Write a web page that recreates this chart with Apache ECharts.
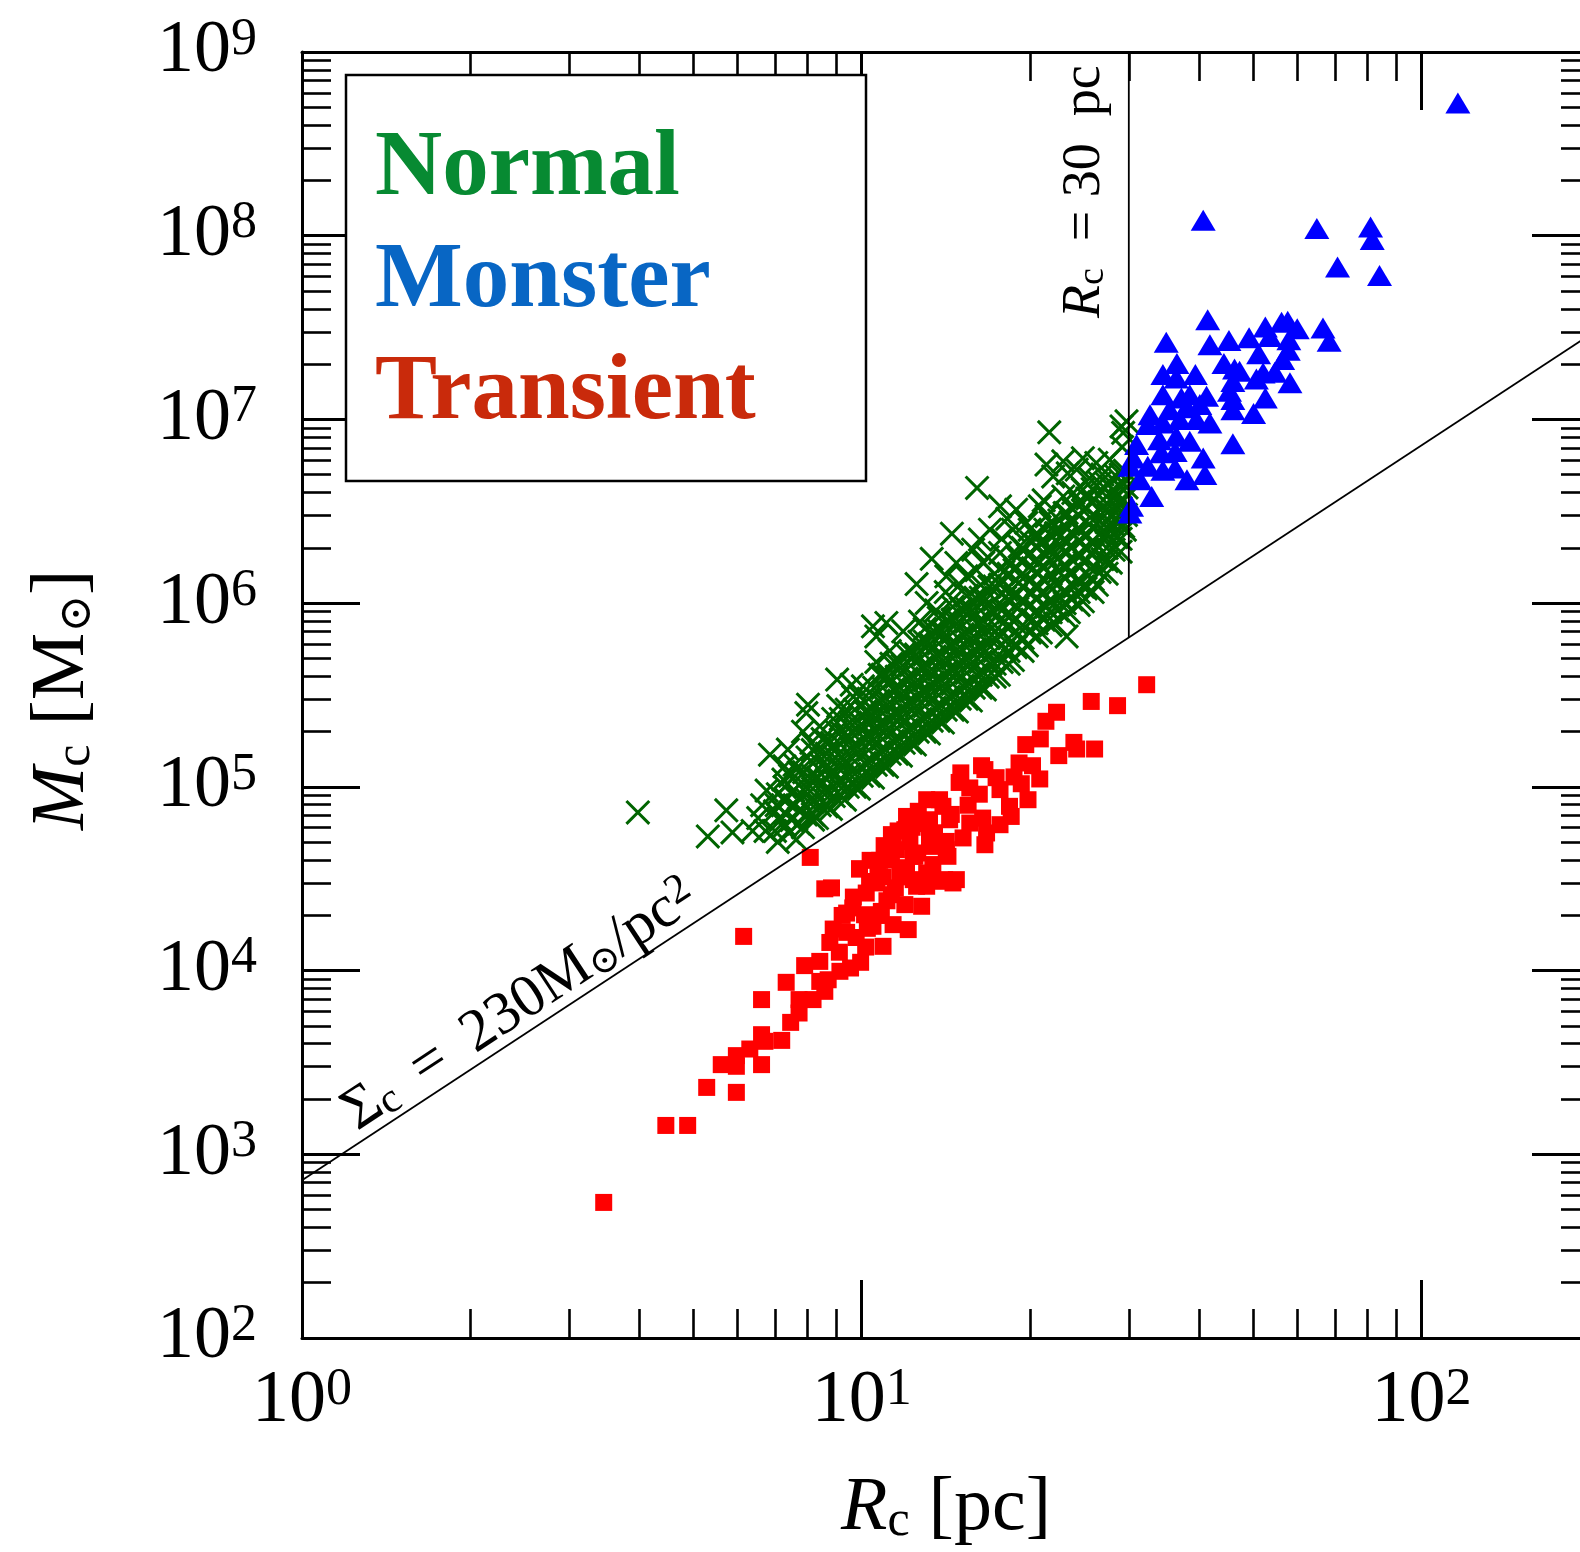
<!DOCTYPE html>
<html>
<head>
<meta charset="utf-8">
<script src="https://cdn.jsdelivr.net/npm/echarts@6/dist/echarts.min.js"></script>
<style>
html,body{margin:0;padding:0;background:#ffffff;overflow:hidden;width:1580px;height:1552px;}
#chart{width:1600px;height:1552px;}
</style>
</head>
<body>
<div id="chart"></div>
<script>
// ---- Data: each point is [log10(R_c / pc), log10(M_c / Msun)] ----
const normalData = [
[0.600,4.861],[0.725,4.730],[0.758,4.872],[0.769,4.752],
[0.836,5.175],[0.868,5.203],[0.862,5.112],[0.845,4.867],[0.865,4.930],
[0.904,5.447],[0.901,5.402],[0.956,5.584],[0.982,5.556],[1.026,5.819],[1.044,5.892],[1.020,5.874],
[1.206,6.627],[1.335,6.930],[1.473,6.990],[1.464,6.962],
[0.805,4.760],[0.815,4.830],[0.822,4.900],[0.830,4.980],[0.828,4.760],
[0.845,4.760],[0.850,4.700],[0.855,4.820],[0.850,4.960],[0.860,5.040],[0.848,4.900],
[0.870,4.750],[0.875,4.820],[0.880,4.900],[0.878,4.980],[0.872,5.060],[0.883,4.713],[0.880,5.120],
[0.895,4.780],[0.900,4.850],[0.905,4.920],[0.900,5.000],[0.897,5.080],[0.903,5.160],[0.910,5.240],[0.913,4.821],[0.895,5.300],
[0.920,4.830],[0.925,4.900],[0.930,4.970],[0.922,5.050],[0.928,5.120],[0.925,5.190],[0.930,5.260],[0.925,5.330],[0.937,4.894],
[0.945,4.880],[0.950,4.950],[0.955,5.020],[0.948,5.090],[0.952,5.160],[0.950,5.230],[0.955,5.300],[0.949,5.370],[0.958,5.440],[0.961,5.039],
[0.970,4.930],[0.975,5.000],[0.978,5.070],[0.972,5.140],[0.980,5.210],[0.975,5.280],[0.979,5.350],[0.973,5.420],[0.985,5.490],
[0.995,4.990],[1.000,5.060],[1.005,5.130],[0.998,5.200],[1.003,5.270],[1.000,5.340],[1.006,5.410],[0.996,5.493],[1.008,5.366],[1.002,5.547],
[1.020,5.050],[1.025,5.120],[1.030,5.190],[1.022,5.260],[1.027,5.330],[1.025,5.400],[1.030,5.470],[1.022,5.540],[1.032,5.610],[1.026,5.680],
[1.045,5.110],[1.050,5.180],[1.055,5.250],[1.048,5.320],[1.052,5.390],[1.050,5.460],[1.056,5.530],[1.047,5.600],[1.053,5.670],[1.050,5.740],
[1.070,5.170],[1.075,5.240],[1.080,5.310],[1.072,5.380],[1.078,5.450],[1.075,5.520],[1.080,5.590],[1.073,5.660],[1.077,5.730],[1.074,5.847],
[1.095,5.230],[1.100,5.300],[1.105,5.370],[1.098,5.440],[1.102,5.510],[1.100,5.580],[1.106,5.650],[1.097,5.720],[1.103,5.790],[1.098,6.104],[1.104,5.900],
[1.120,5.290],[1.125,5.360],[1.130,5.430],[1.122,5.500],[1.127,5.570],[1.125,5.640],[1.130,5.710],[1.122,5.780],[1.128,5.850],[1.125,6.241],[1.133,5.960],[1.116,6.001],
[1.145,5.350],[1.150,5.420],[1.155,5.490],[1.148,5.560],[1.152,5.630],[1.150,5.700],[1.156,5.770],[1.147,5.840],[1.153,5.910],[1.161,6.378],[1.151,6.146],[1.163,6.019],[1.150,6.060],
[1.170,5.410],[1.175,5.480],[1.180,5.550],[1.172,5.620],[1.178,5.690],[1.175,5.760],[1.180,5.830],[1.173,5.900],[1.177,5.970],[1.169,6.219],[1.175,6.100],[1.187,6.146],
[1.195,5.470],[1.200,5.540],[1.205,5.610],[1.198,5.680],[1.202,5.750],[1.200,5.820],[1.206,5.890],[1.197,5.960],[1.203,6.030],[1.199,6.291],[1.211,6.346],[1.205,6.180],
[1.220,5.530],[1.225,5.600],[1.230,5.670],[1.222,5.740],[1.227,5.810],[1.225,5.880],[1.230,5.950],[1.222,6.020],[1.228,6.090],[1.229,6.400],[1.217,6.219],[1.225,6.250],
[1.245,5.610],[1.250,5.680],[1.255,5.750],[1.248,5.820],[1.252,5.890],[1.250,5.960],[1.256,6.030],[1.247,6.100],[1.253,6.170],[1.247,6.527],[1.260,6.460],[1.247,6.273],[1.250,6.350],
[1.270,5.690],[1.275,5.760],[1.280,5.830],[1.272,5.900],[1.278,5.970],[1.275,6.040],[1.280,6.110],[1.273,6.180],[1.277,6.250],[1.276,6.509],[1.282,6.309],[1.270,6.400],
[1.295,5.770],[1.300,5.840],[1.305,5.910],[1.298,5.980],[1.302,6.050],[1.300,6.120],[1.306,6.190],[1.297,6.260],[1.303,6.330],[1.294,6.437],[1.318,6.527],[1.300,6.400],
[1.320,5.840],[1.325,5.910],[1.330,5.980],[1.322,6.050],[1.327,6.120],[1.325,6.190],[1.330,6.260],[1.322,6.330],[1.328,6.400],[1.330,6.754],[1.330,6.473],[1.318,6.328],[1.325,6.560],
[1.345,5.890],[1.350,5.960],[1.355,6.030],[1.348,6.100],[1.352,6.170],[1.350,6.240],[1.356,6.310],[1.347,6.380],[1.353,6.450],[1.360,6.772],[1.342,6.690],[1.354,6.364],[1.366,6.491],[1.360,6.581],[1.366,5.819],
[1.370,5.950],[1.375,6.020],[1.380,6.090],[1.372,6.160],[1.378,6.230],[1.375,6.300],[1.380,6.370],[1.373,6.440],[1.377,6.510],[1.384,6.727],[1.368,6.707],[1.378,6.600],
[1.395,6.010],[1.400,6.080],[1.405,6.150],[1.398,6.220],[1.402,6.290],[1.400,6.360],[1.406,6.430],[1.397,6.500],[1.403,6.570],[1.395,6.618],[1.395,6.789],[1.407,6.680],
[1.420,6.100],[1.425,6.170],[1.430,6.240],[1.422,6.310],[1.427,6.380],[1.425,6.450],[1.430,6.520],[1.422,6.590],[1.419,6.763],[1.425,6.654],[1.437,6.382],[1.430,6.700],
[1.445,6.220],[1.450,6.290],[1.455,6.360],[1.448,6.430],[1.452,6.500],[1.450,6.570],[1.443,6.781],[1.455,6.690],[1.449,6.618],[1.461,6.546],[1.467,6.418],[1.467,6.927],[1.460,6.640],
[1.470,6.400],[1.472,6.480],[1.468,6.560],[1.473,6.630],[1.470,6.720],[1.465,6.850],
[1.395,6.091],[1.258,6.073],
// dense core
[0.8625,4.79],[0.8625,4.86],[0.8625,4.93],[0.8625,5.00],
[0.8875,4.80],[0.8875,4.87],[0.8875,4.94],[0.8875,5.01],[0.8875,5.08],
[0.9125,4.85],[0.9125,4.92],[0.9125,4.99],[0.9125,5.06],[0.9125,5.13],[0.9125,5.20],
[0.9375,4.90],[0.9375,4.97],[0.9375,5.04],[0.9375,5.11],[0.9375,5.18],[0.9375,5.25],
[0.9625,4.95],[0.9625,5.02],[0.9625,5.09],[0.9625,5.16],[0.9625,5.23],[0.9625,5.30],[0.9625,5.37],
[0.9875,5.00],[0.9875,5.07],[0.9875,5.14],[0.9875,5.21],[0.9875,5.28],[0.9875,5.35],[0.9875,5.42],
[1.0125,5.06],[1.0125,5.13],[1.0125,5.20],[1.0125,5.27],[1.0125,5.34],[1.0125,5.41],[1.0125,5.48],
[1.0375,5.12],[1.0375,5.19],[1.0375,5.26],[1.0375,5.33],[1.0375,5.40],[1.0375,5.47],[1.0375,5.54],[1.0375,5.61],
[1.0625,5.18],[1.0625,5.25],[1.0625,5.32],[1.0625,5.39],[1.0625,5.46],[1.0625,5.53],[1.0625,5.60],[1.0625,5.67],
[1.0875,5.24],[1.0875,5.31],[1.0875,5.38],[1.0875,5.45],[1.0875,5.52],[1.0875,5.59],[1.0875,5.66],[1.0875,5.73],
[1.1125,5.30],[1.1125,5.37],[1.1125,5.44],[1.1125,5.51],[1.1125,5.58],[1.1125,5.65],[1.1125,5.72],[1.1125,5.79],[1.1125,5.86],
[1.1375,5.36],[1.1375,5.43],[1.1375,5.50],[1.1375,5.57],[1.1375,5.64],[1.1375,5.71],[1.1375,5.78],[1.1375,5.85],[1.1375,5.92],
[1.1625,5.42],[1.1625,5.49],[1.1625,5.56],[1.1625,5.63],[1.1625,5.70],[1.1625,5.77],[1.1625,5.84],[1.1625,5.91],[1.1625,5.98],
[1.1875,5.48],[1.1875,5.55],[1.1875,5.62],[1.1875,5.69],[1.1875,5.76],[1.1875,5.83],[1.1875,5.90],[1.1875,5.97],[1.1875,6.04],
[1.2125,5.54],[1.2125,5.61],[1.2125,5.68],[1.2125,5.75],[1.2125,5.82],[1.2125,5.89],[1.2125,5.96],[1.2125,6.03],[1.2125,6.10],
[1.2375,5.60],[1.2375,5.67],[1.2375,5.74],[1.2375,5.81],[1.2375,5.88],[1.2375,5.95],[1.2375,6.02],[1.2375,6.09],[1.2375,6.16],
[1.2625,5.67],[1.2625,5.74],[1.2625,5.81],[1.2625,5.88],[1.2625,5.95],[1.2625,6.02],[1.2625,6.09],[1.2625,6.16],[1.2625,6.23],
[1.2875,5.74],[1.2875,5.81],[1.2875,5.88],[1.2875,5.95],[1.2875,6.02],[1.2875,6.09],[1.2875,6.16],[1.2875,6.23],[1.2875,6.30],
[1.3125,5.82],[1.3125,5.89],[1.3125,5.96],[1.3125,6.03],[1.3125,6.10],[1.3125,6.17],[1.3125,6.24],[1.3125,6.31],[1.3125,6.38],
[1.3375,5.88],[1.3375,5.95],[1.3375,6.02],[1.3375,6.09],[1.3375,6.16],[1.3375,6.23],[1.3375,6.30],[1.3375,6.37],[1.3375,6.44],
[1.3625,5.93],[1.3625,6.00],[1.3625,6.07],[1.3625,6.14],[1.3625,6.21],[1.3625,6.28],[1.3625,6.35],[1.3625,6.42],[1.3625,6.49],
[1.3875,5.99],[1.3875,6.06],[1.3875,6.13],[1.3875,6.20],[1.3875,6.27],[1.3875,6.34],[1.3875,6.41],[1.3875,6.48],[1.3875,6.55],
[1.4125,6.06],[1.4125,6.13],[1.4125,6.20],[1.4125,6.27],[1.4125,6.34],[1.4125,6.41],[1.4125,6.48],[1.4125,6.55],[1.4125,6.62],
[1.4375,6.16],[1.4375,6.23],[1.4375,6.30],[1.4375,6.37],[1.4375,6.44],[1.4375,6.51],[1.4375,6.58],[1.4375,6.65],
[1.4625,6.28],[1.4625,6.35],[1.4625,6.42],[1.4625,6.49],[1.4625,6.56],[1.4625,6.63],[1.4625,6.70]
];

const monsterData = [
[2.065,8.723],[1.610,8.084],[1.813,8.039],[1.909,8.048],[1.912,7.979],[1.850,7.830],[1.925,7.783],
[1.618,7.543],[1.544,7.420],[1.824,7.498],[1.835,7.425],[1.721,7.503],[1.750,7.529],[1.761,7.534],
[1.778,7.493],[1.692,7.444],[1.656,7.429],[1.622,7.407],[1.729,7.452],[1.763,7.434],[1.709,7.358],
[1.762,7.376],[1.752,7.326],[1.563,7.304],[1.538,7.244],[1.596,7.244],[1.647,7.304],[1.666,7.275],
[1.675,7.262],[1.717,7.253],[1.738,7.257],[1.705,7.220],[1.765,7.199],[1.663,7.207],[1.562,7.226],
[1.657,7.153],[1.663,7.108],[1.721,7.117],[1.538,7.135],[1.571,7.117],[1.586,7.135],[1.616,7.126],
[1.663,7.053],[1.700,7.032],[1.515,7.026],[1.550,7.053],[1.580,7.063],[1.604,7.081],[1.622,6.981],
[1.598,6.999],[1.568,6.999],[1.538,6.981],[1.511,6.972],[1.663,6.868],[1.491,6.863],[1.532,6.890],
[1.562,6.908],[1.586,6.881],[1.610,6.790],[1.535,6.818],[1.560,6.826],[1.485,6.790],[1.511,6.745],
[1.538,6.723],[1.560,6.736],[1.613,6.700],[1.581,6.672],[1.518,6.581],[1.482,6.527],[1.497,6.672],
[1.479,6.745],[1.479,6.491]
];

const transientData = [
[0.539,2.738],[0.650,3.157],[0.689,3.157],[0.723,3.364],[0.776,3.337],[0.749,3.488],[0.776,3.479],
[0.821,3.488],[0.800,3.573],[0.776,3.537],[0.821,3.651],[0.827,3.615],[0.857,3.620],[0.821,3.842],
[0.789,4.186],[0.873,3.718],[0.865,3.936],[0.888,3.769],[0.888,3.842],[0.913,3.842],[0.898,4.027],
[0.925,4.050],[0.934,3.887],[0.925,3.941],[0.940,3.950],[0.961,3.996],[0.980,4.014],[0.943,4.153],
[0.949,4.226],[0.973,4.208],[0.998,4.045],[1.007,4.128],[0.984,4.341],[1.005,4.304],[1.020,4.241],
[1.038,4.132],[1.056,4.250],[1.083,4.223],[1.035,4.322],[1.008,4.422],[1.027,4.477],[1.053,4.413],
[1.077,4.359],[1.107,4.350],[0.996,4.553],[0.908,4.616],[0.934,4.445],[1.029,4.540],[1.053,4.604],
[1.068,4.531],[1.092,4.622],[1.116,4.459],[1.142,4.486],[1.163,4.477],[1.092,4.495],[1.127,4.577],
[1.056,4.676],[1.121,4.676],[1.151,4.658],[0.973,4.313],
[1.509,5.556],[1.410,5.465],[1.457,5.442],[1.348,5.406],[1.329,5.357],[1.319,5.261],[1.293,5.230],
[1.352,5.170],[1.379,5.242],[1.384,5.206],[1.416,5.206],[1.214,5.115],[1.220,5.094],[1.281,5.130],
[1.305,5.115],[1.272,5.054],[1.318,5.043],[1.285,5.017],[1.297,4.930],[1.177,5.076],[1.174,5.024],
[1.193,4.994],[1.247,4.985],[1.264,4.894],[1.267,4.839],[1.247,4.794],[1.216,4.830],[1.193,4.803],
[1.223,4.749],[1.220,4.685],[1.169,4.495],[1.148,4.495],[1.139,4.930],[1.116,4.930],[1.145,4.894],
[1.101,4.867],[1.080,4.839],[1.121,4.821],[1.157,4.821],[1.077,4.767],[1.053,4.740],[1.086,4.703],
[1.121,4.722],[1.151,4.703],[1.181,4.722],[1.154,4.622],[1.062,4.658],[1.095,4.622],[0.996,4.554],
[1.032,4.600],[1.038,4.510],[1.014,4.485],[1.074,4.510],[1.098,4.459],[1.116,4.531],[0.946,4.450],
[0.960,4.100],[0.990,4.180],[1.010,4.230],[1.030,4.300],[1.045,4.380],[1.060,4.450],[1.080,4.560],
[1.100,4.640],[1.130,4.750],[1.160,4.850],[1.190,4.900],[1.210,4.960],[1.240,5.050],[0.965,4.300],
[0.985,4.400],[1.015,4.600],[1.040,4.680],[1.065,4.760],[1.090,4.780],[1.110,4.800]
];

// Reference lines (R in pc, M in Msun)
const sigmaLineR = [1, 200];
const sigmaLineM = [722.6, 2.890e7];   // Sigma_c = 230 Msun/pc^2
const rcLineR = [30, 30];
const rcLineM = [6.50e5, 1e9];          // R_c = 30 pc

// Axis ranges and ticks
const xRange = [1, 200];
const yRange = [1e2, 1e9];
const xMajorTicks = [1, 10, 100];
const xTickExponents = ['0', '1', '2'];
const xMinorTicks = [2,3,4,5,6,7,8,9,20,30,40,50,60,70,80,90];
const yMajorTicks = [1e2,1e3,1e4,1e5,1e6,1e7,1e8,1e9];
const yTickExponents = ['2','3','4','5','6','7','8','9'];
const yMinorTicks = [
2e2,3e2,4e2,5e2,6e2,7e2,8e2,9e2,
2e3,3e3,4e3,5e3,6e3,7e3,8e3,9e3,
2e4,3e4,4e4,5e4,6e4,7e4,8e4,9e4,
2e5,3e5,4e5,5e5,6e5,7e5,8e5,9e5,
2e6,3e6,4e6,5e6,6e6,7e6,8e6,9e6,
2e7,3e7,4e7,5e7,6e7,7e7,8e7,9e7,
2e8,3e8,4e8,5e8,6e8,7e8,8e8,9e8
];
const legendNames = ['Normal', 'Monster', 'Transient'];
const legendColors = ['#078a32', '#0866c4', '#c92a0b'];

// ---- Build ----
const toValues = pts => pts.map(p => [Math.pow(10, p[0]), Math.pow(10, p[1])]);
const pairUp = (a, b) => a.map((v, i) => [v, b[i]]);

const SERIF = "'Liberation Serif', 'DejaVu Serif', serif";
const crossPath = 'path://M0,8.5L8.5,0L100,91.5L91.5,100Z M91.5,0L100,8.5L8.5,100L0,91.5Z';

function expLabel(ticks, exps) {
  return function (v) {
    let idx = -1, best = 1e9;
    ticks.forEach((t, i) => { const d = Math.abs(Math.log10(t) - Math.log10(v)); if (d < best) { best = d; idx = i; } });
    return '{b|10}{s|' + exps[idx] + '}';
  };
}
const tickRich = {
  b: { fontFamily: SERIF, fontSize: 74, lineHeight: 76, color: '#000' },
  s: { fontFamily: SERIF, fontSize: 52, lineHeight: 40, verticalAlign: 'top', color: '#000' }
};

const lineSt = { color: '#000', width: 3 };
function axisSet(range, position, major, minor, withLabels, labelFn, margin) {
  const base = {
    type: 'log', logBase: 10, min: range[0], max: range[1], position: position,
    splitLine: { show: false }, minorTick: { show: false }, minorSplitLine: { show: false },
    axisPointer: { show: false }
  };
  const majorAxis = Object.assign({}, base, {
    axisLine: { show: true, onZero: false, lineStyle: lineSt },
    axisTick: { show: true, inside: true, length: 58, customValues: major, lineStyle: { color: '#000', width: 3 } },
    axisLabel: withLabels ? { show: true, customValues: major, margin: margin, formatter: labelFn, rich: tickRich } : { show: false }
  });
  const minorAxis = Object.assign({}, base, {
    axisLine: { show: false, onZero: false },
    axisTick: { show: true, inside: true, length: 29, customValues: minor, lineStyle: { color: '#000', width: 2.6 } },
    axisLabel: { show: false }
  });
  return [majorAxis, minorAxis];
}

const xAxes = [].concat(
  axisSet(xRange, 'bottom', xMajorTicks, xMinorTicks, true, expLabel(xMajorTicks, xTickExponents), 26),
  axisSet(xRange, 'top', xMajorTicks, xMinorTicks, false)
);
const yAxes = [].concat(
  axisSet(yRange, 'left', yMajorTicks, yMinorTicks, true, expLabel(yMajorTicks, yTickExponents), 45),
  axisSet(yRange, 'right', yMajorTicks, yMinorTicks, false)
);

const chart = echarts.init(document.getElementById('chart'), null, { renderer: 'canvas', width: 1600, height: 1552 });

const sigAng = 0.581;
const option = {
  animation: false,
  backgroundColor: '#ffffff',
  grid: { left: 302, top: 52, width: 1288, height: 1286, containLabel: false },
  xAxis: xAxes,
  yAxis: yAxes,
  legend: {
    data: legendNames.map((n, i) => ({ name: n, textStyle: { color: legendColors[i] } })),
    orient: 'vertical', left: 346, top: 75,
    padding: [39, 0, 0, 24], itemGap: 0, itemWidth: 0, itemHeight: 0,
    selectedMode: false, z: 6,
    textStyle: { fontFamily: SERIF, fontWeight: 'bold', fontSize: 93, lineHeight: 112 }
  },
  series: [
    {
      name: 'Normal', type: 'scatter', data: toValues(normalData),
      symbol: crossPath, symbolSize: 25,
      itemStyle: { color: '#006400', opacity: 1 }, z: 2, silent: true
    },
    {
      name: 'Monster', type: 'scatter', data: toValues(monsterData),
      symbol: 'triangle', symbolSize: [25, 21],
      itemStyle: { color: '#0000ff', opacity: 1 }, z: 2, silent: true
    },
    {
      name: 'Transient', type: 'scatter', data: toValues(transientData),
      symbol: 'rect', symbolSize: 17,
      itemStyle: { color: '#ff0000', opacity: 1 }, z: 2, silent: true
    },
    {
      name: 'SigmaLine', type: 'line', data: pairUp(sigmaLineR, sigmaLineM),
      symbol: 'none', lineStyle: { color: '#000', width: 1.8 }, z: 3, silent: true, clip: true
    },
    {
      name: 'RcLine', type: 'line', data: pairUp(rcLineR, rcLineM),
      symbol: 'none', lineStyle: { color: '#000', width: 1.8 }, z: 3, silent: true, clip: true
    }
  ],
  graphic: [
    { type: 'rect', z: 3, shape: { x: 346, y: 75, width: 520, height: 406 },
      style: { fill: '#ffffff', stroke: '#000', lineWidth: 2.5 } },
    { type: 'text', z: 5, x: 841, y: 1509,
      style: { text: '{i|R}{s|c}{n| [pc]}', align: 'left', verticalAlign: 'middle',
        rich: {
          i: { fontFamily: SERIF, fontStyle: 'italic', fontSize: 76, lineHeight: 76, fill: '#000' },
          s: { fontFamily: SERIF, fontSize: 50, lineHeight: 34, verticalAlign: 'bottom', fill: '#000' },
          n: { fontFamily: SERIF, fontSize: 76, lineHeight: 76, fill: '#000' }
        } } },
    { type: 'text', z: 5, x: 63, y: 830, rotation: Math.PI / 2,
      style: { text: '{i|M}{s|c}{n| [M}{o|⊙}{n|]}', align: 'left', verticalAlign: 'middle',
        rich: {
          i: { fontFamily: SERIF, fontStyle: 'italic', fontSize: 76, lineHeight: 76, fill: '#000' },
          s: { fontFamily: SERIF, fontSize: 50, lineHeight: 34, verticalAlign: 'bottom', fill: '#000' },
          n: { fontFamily: SERIF, fontSize: 76, lineHeight: 76, fill: '#000' },
          o: { fontFamily: "'DejaVu Serif', serif", fontSize: 45, lineHeight: 26, verticalAlign: 'bottom', fill: '#000' }
        } } },
    { type: 'text', z: 5, x: 1085, y: 318, rotation: Math.PI / 2,
      style: { text: '{i|R}{s|c}{n|  = 30  pc}', align: 'left', verticalAlign: 'middle',
        rich: {
          i: { fontFamily: SERIF, fontStyle: 'italic', fontSize: 54, lineHeight: 54, fill: '#000' },
          s: { fontFamily: SERIF, fontSize: 38, lineHeight: 30, verticalAlign: 'bottom', fill: '#000' },
          n: { fontFamily: SERIF, fontSize: 54, lineHeight: 54, fill: '#000' }
        } } },
    { type: 'text', z: 5, x: 365, y: 1143, rotation: sigAng,
      style: { text: '{n|Σ}{s|c}{n| \u2009=\u2009 230M}{o|⊙}{n|/pc}{p|2}', align: 'left', verticalAlign: 'bottom',
        rich: {
          n: { fontFamily: SERIF, fontSize: 60, lineHeight: 60, fill: '#000' },
          s: { fontFamily: SERIF, fontSize: 42, lineHeight: 32, verticalAlign: 'bottom', fill: '#000' },
          o: { fontFamily: "'DejaVu Serif', serif", fontSize: 38, lineHeight: 22, verticalAlign: 'bottom', fill: '#000' },
          p: { fontFamily: SERIF, fontSize: 42, lineHeight: 30, verticalAlign: 'top', fill: '#000' }
        } } }
  ]
};
chart.setOption(option);
</script>
</body>
</html>
